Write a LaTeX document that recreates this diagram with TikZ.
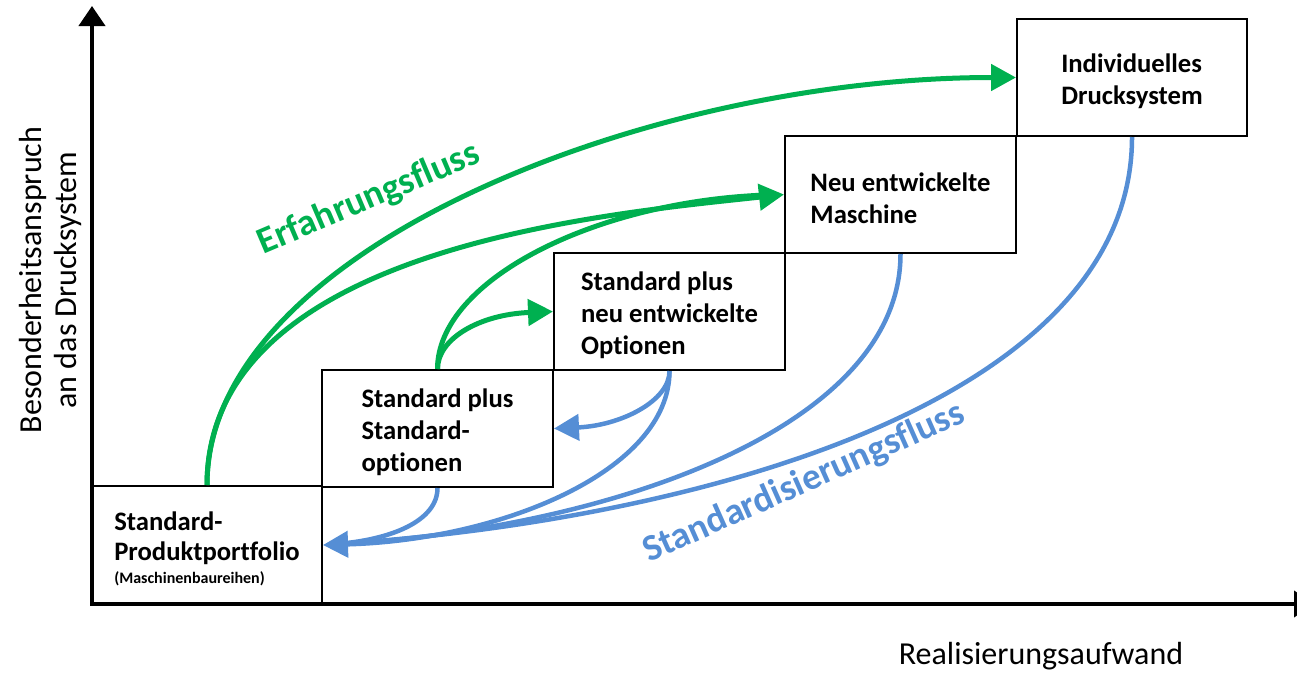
\documentclass[tikz,border=0pt]{standalone}
\usepackage{fontspec}
\setmainfont{Carlito}[Ligatures=NoCommon]
\usetikzlibrary{arrows.meta}
\definecolor{grn}{RGB}{0,176,80}
\definecolor{blu}{RGB}{85,142,213}
\newcommand{\myLift}[1][27pt]{\rule{0pt}{#1}}
\begin{document}
\begin{tikzpicture}[x=1pt,y=-1pt,
  box/.style={draw=black, line width=2pt, minimum width=#1, minimum height=117pt,
    inner sep=0pt, align=left, font=\bfseries\fontsize{26.67}{32}\selectfont},
  axis/.style={draw=black, line width=4pt},
  gline/.style={draw=grn, line width=5pt},
  bline/.style={draw=blu, line width=4.5pt},
  gtip/.style={-{Triangle[length=25pt,width=26pt]}},
  btip/.style={-{Triangle[length=25pt,width=26pt]}},
  flow/.style={font=\bfseries\fontsize{37.3}{40}\selectfont, inner sep=0pt},
  lab/.style={font=\fontsize{32}{35}\selectfont, inner sep=0pt}]
\useasboundingbox (0,0) rectangle (1297,672);
\clip (0,0) rectangle (1297,672);
% axes
\coordinate (o) at (92,604);
\coordinate (ytop) at (92,6);
\coordinate (xend) at (1314,604);
\draw[axis,-{Triangle[length=20pt,width=26pt]}] ([yshift=2pt]o) -- (ytop);
\draw[axis,-{Triangle[length=20pt,width=26pt]}] ([xshift=-2pt]o) -- (xend);
% boxes
\node[box=230pt, minimum height=118pt] (b1) at (207,545) {\myLift[26pt]Standard-\\[-2pt]Produktportfolio\\[-9pt]{\fontsize{16}{19}\selectfont (Maschinenbaureihen)}};
\node[box=231pt] (b2) at (437.5,428.5) {\myLift Standard plus\\Standard-\\optionen};
\node[box=231pt] (b3) at (669.5,311.5) {\myLift Standard plus\\neu entwickelte\\Optionen};
\node[box=231pt] (b4) at (900.5,194.5) {\myLift Neu entwickelte\\Maschine};
\node[box=230pt] (b5) at (1132,77.5) {\myLift Individuelles\\Drucksystem};
% labels
\node[lab, rotate=90, align=center] (ylab) at (50,280) {Besonderheitsanspruch\\an das Drucksystem};
\node[lab] (xlab) at (1041,656) {Realisierungsaufwand};
\node[flow, text=grn, rotate=23] (erf) at (369,199) {Erfahrungsfluss};
\node[flow, text=blu, rotate=24] (std) at (804,483) {Standardisierungsfluss};
% green flows
\draw[gline,gtip] (b1.north) .. controls +(0,-236) and +(-367,0) .. (b5.west);
\draw[gline,gtip] (b1.north) .. controls +(0,-236) and +(-185,20) .. (b4.west);
\draw[gline,shorten >=12pt] (b2.north) .. controls +(0,-90) and +(-185,5) .. (b4.west);
\draw[gline,gtip] (b2.north) .. controls +(0,-30) and +(-74,3) .. (b3.west);
% blue flows
\draw[bline,btip] (b3.south) .. controls +(0,30) and +(67,-3) .. (b2.east);
\draw[bline,btip] (b3.south) .. controls +(0,100) and +(178,-5) .. (b1.east);
\draw[bline,shorten >=12pt] (b2.south) .. controls +(0,33) and +(68,-5) .. (b1.east);
\draw[bline,shorten >=12pt] (b4.south) .. controls +(0,177) and +(278,-15) .. (b1.east);
\draw[bline,shorten >=12pt] (b5.south) .. controls +(0,264) and +(378,-25) .. (b1.east);
\end{tikzpicture}
\end{document}
